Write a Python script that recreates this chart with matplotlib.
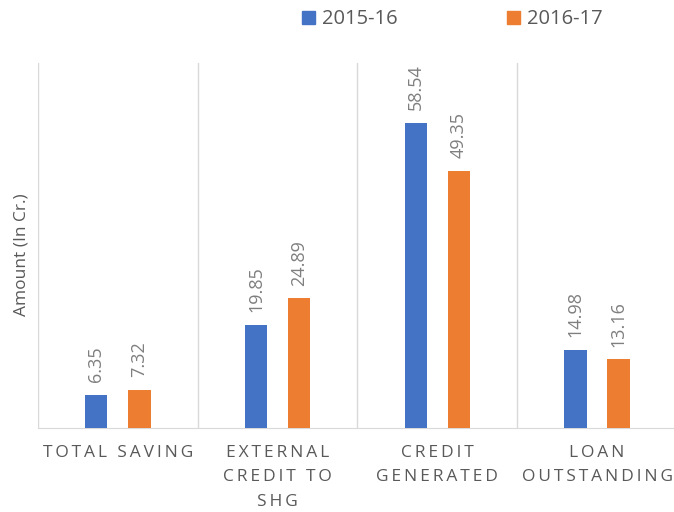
import matplotlib.pyplot as plt
import numpy as np
from matplotlib.patches import Patch

categories = ["TOTAL SAVING", "EXTERNAL\nCREDIT TO\nSHG", "CREDIT\nGENERATED", "LOAN\nOUTSTANDING"]
series_names = ["2015-16", "2016-17"]
values_1516 = [6.35, 19.85, 58.54, 14.98]
values_1617 = [7.32, 24.89, 49.35, 13.16]
colors = ["#4472C4", "#ED7D31"]

plt.rcParams['font.family'] = ['Open Sans', 'DejaVu Sans']


def spaced(text):
    # mimic the wide letter spacing of the category labels
    return "\n".join("\u2009".join(line) for line in text.split("\n"))


fig = plt.figure(figsize=(6.74, 5.12), dpi=100)
ax = fig.add_axes([0.0564, 0.164, 0.948, 0.713])

x = np.arange(len(categories))
width = 0.14
offset = 0.135
for vals, color, sign in [(values_1516, colors[0], -1), (values_1617, colors[1], 1)]:
    bars = ax.bar(x + sign * offset, vals, width, color=color, zorder=3)
    for b, v in zip(bars, vals):
        ax.annotate(f"{v:.2f}", (b.get_x() + b.get_width() / 2, b.get_height()),
                    xytext=(0, 9), textcoords="offset points", rotation=90,
                    ha="center", va="bottom", fontsize=13, color="#7f7f7f")

ax.set_xlim(-0.5, len(categories) - 0.5)
ax.set_ylim(0, 70)
ax.set_yticks([])
ax.set_xticks(x)
ax.set_xticklabels([spaced(c) for c in categories], fontsize=12.5, color="#595959",
                   linespacing=1.72)
ax.tick_params(axis="x", length=0, pad=12)
for xb in np.arange(-0.5, len(categories), 1):
    ax.axvline(xb, color="#d9d9d9", lw=1, zorder=1)
for side in ["top", "right", "left"]:
    ax.spines[side].set_visible(False)
ax.spines["bottom"].set_color("#d9d9d9")
ax.set_ylabel("Amount (In Cr.)", fontsize=12.5, color="#595959")
ax.yaxis.set_label_coords(-0.014, 0.475)

handles = [Patch(color=c, label=n) for c, n in zip(colors, series_names)]
fig.legend(handles=handles, loc="center", bbox_to_anchor=(0.671, 0.962), ncol=2,
           frameon=False, fontsize=14.5, labelcolor="#595959", columnspacing=5.4,
           handlelength=0.65, handleheight=0.65, handletextpad=0.35)

fig.savefig("out.png", dpi=100)
